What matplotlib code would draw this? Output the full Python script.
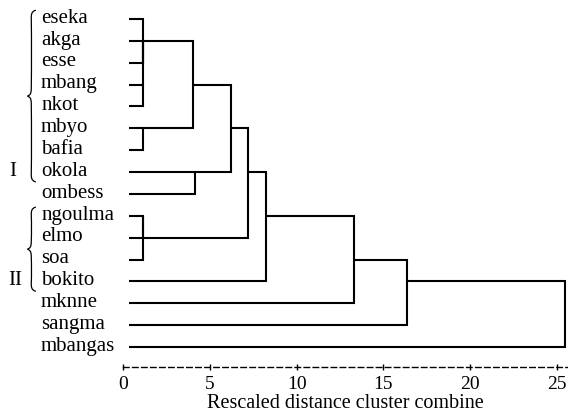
import numpy as np
import matplotlib
matplotlib.use("Agg")
import matplotlib.pyplot as plt
from matplotlib.path import Path
from matplotlib.patches import PathPatch

plt.rcParams['font.family'] = ['Liberation Serif', 'DejaVu Serif']

# ---- data ----
leaves = ["eseka", "akga", "esse", "mbang", "nkot", "mbyo", "bafia", "okola",
          "ombess", "ngoulma", "elmo", "soa", "bokito", "mknne", "sangma", "mbangas"]
# agglomeration schedule: cluster ids 0..15 are leaves, new ids start at 16
merge_left = [1, 3, 16, 0, 5, 9, 21, 19, 7, 23, 25, 26, 27, 28, 29]
merge_right = [2, 4, 17, 18, 6, 10, 11, 20, 8, 24, 22, 12, 13, 14, 15]
merge_height = [1.17, 1.17, 1.17, 1.17, 1.17, 1.17, 1.17, 4.05, 4.15, 6.20,
                7.22, 8.22, 13.31, 16.34, 25.46]
x_ticks = [0, 5, 10, 15, 20, 25]
x_label = "Rescaled distance cluster combine"
group_labels = ["I", "II"]
group_first = [0, 9]
group_last = [7, 12]

# ---- figure ----
W, H = 568, 419
fig = plt.figure(figsize=(W / 100, H / 100), dpi=100)
ax = fig.add_axes([123 / W, (H - 367) / H, (567.4 - 123) / W, 367 / H])
ax.set_xlim(0, 25.6)
ax.set_ylim(348 / 21.87, -19 / 21.87)

leaf_x0 = 0.35
lw = 1.5
xpos = {}
ypos = {}
for i in range(len(leaves)):
    xpos[i] = leaf_x0
    ypos[i] = float(i)

for k, (a, b, h) in enumerate(zip(merge_left, merge_right, merge_height)):
    nid = len(leaves) + k
    ax.plot([xpos[a], h, h, xpos[b]], [ypos[a], ypos[a], ypos[b], ypos[b]],
            color='black', lw=lw, solid_joinstyle='miter', solid_capstyle='butt',
            clip_on=False)
    xpos[nid] = h
    ypos[nid] = float(np.floor((ypos[a] + ypos[b]) / 2))

fs = 15
for i, name in enumerate(leaves):
    ax.text(-4.72, i + 0.17, name, ha='left', va='baseline', fontsize=fs,
            clip_on=False)

# braces and group labels
def brace(x_tip, x_end, y_top, y_bot):
    xs = x_end - 0.55 * (x_end - x_tip)
    ym = (y_top + y_bot) / 2
    c = 0.35
    verts = [(x_end, y_top),
             (xs, y_top + 0.05), (xs, y_top + c * 0.6), (xs, y_top + c),
             (xs + 0.03, (y_top + ym) / 2), (xs, ym - c),
             (xs, ym - c * 0.3), (x_tip + 0.15, ym - 0.05), (x_tip, ym),
             (x_tip + 0.15, ym + 0.05), (xs, ym + c * 0.3), (xs, ym + c),
             (xs + 0.03, (ym + y_bot) / 2), (xs, y_bot - c),
             (xs, y_bot - c * 0.6), (xs, y_bot - 0.05), (x_end, y_bot)]
    codes = [Path.MOVETO,
             Path.CURVE4, Path.CURVE4, Path.CURVE4,
             Path.CURVE3, Path.CURVE3,
             Path.CURVE4, Path.CURVE4, Path.CURVE4,
             Path.CURVE4, Path.CURVE4, Path.CURVE4,
             Path.CURVE3, Path.CURVE3,
             Path.CURVE4, Path.CURVE4, Path.CURVE4]
    ax.add_patch(PathPatch(Path(verts, codes), fill=False, lw=0.9,
                           color='black', clip_on=False))

label_x = [-6.36, -6.22]
for lab, f, l, lx in zip(group_labels, group_first, group_last, label_x):
    brace(-5.50, -5.02, f - 0.4, l + 0.45)
    ax.text(lx, l + 0.17, lab, ha='center', va='baseline', fontsize=fs,
            clip_on=False)

# axis
for s in ['top', 'right', 'left']:
    ax.spines[s].set_visible(False)
ax.spines['bottom'].set_linestyle((0, (4, 2.5)))
ax.spines['bottom'].set_linewidth(1.0)
ax.set_yticks([])
ax.set_xticks(x_ticks)
ax.set_xticklabels([str(t) for t in x_ticks])
ax.tick_params(axis='x', direction='inout', length=4, width=1.0, pad=4.5,
               labelsize=14)
ax.set_xlabel(x_label, fontsize=14.5, labelpad=0.5)
ax.patch.set_visible(False)

fig.savefig('out.png', dpi=100)
